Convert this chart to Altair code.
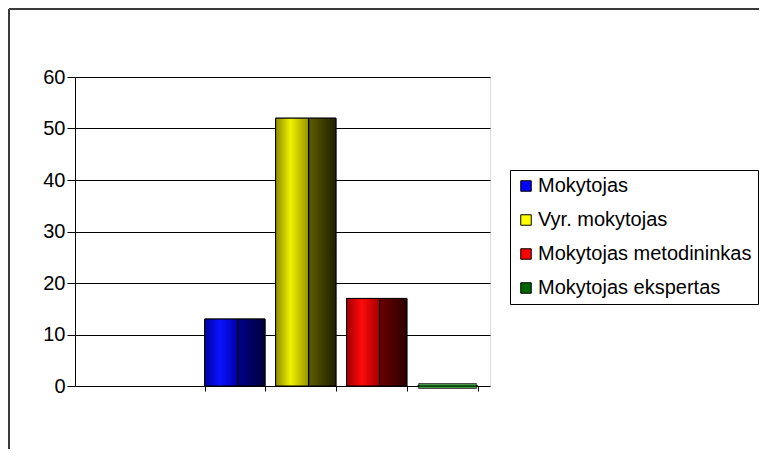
import altair as alt
import pandas as pd

categories = ["Mokytojas", "Vyr. mokytojas", "Mokytojas metodininkas", "Mokytojas ekspertas"]
values = [13, 52, 17, 0]
legend_colors = ["#0000FF", "#FFFF00", "#FF0000", "#006600"]
y_ticks = [0, 10, 20, 30, 40, 50, 60]

df = pd.DataFrame({"category": categories, "value": values})
frame = pd.DataFrame({"z": [0]})

FONT = "Liberation Sans"


def grad(c_edge, c_mid, c_front_r, c_side_l, c_side_r):
    return alt.Gradient(
        gradient="linear",
        x1=0, x2=1, y1=0, y2=0,
        stops=[
            alt.GradientStop(color=c_edge, offset=0),
            alt.GradientStop(color=c_mid, offset=0.25),
            alt.GradientStop(color=c_front_r, offset=0.53),
            alt.GradientStop(color="#000000", offset=0.54),
            alt.GradientStop(color="#000000", offset=0.555),
            alt.GradientStop(color=c_side_l, offset=0.565),
            alt.GradientStop(color=c_side_r, offset=1),
        ],
    )


gradients = {
    "Mokytojas": grad("#0000a0", "#0a14ff", "#0000b0", "#00008a", "#000038"),
    "Vyr. mokytojas": grad("#8c8c00", "#f2f200", "#9a9a00", "#5c5c00", "#1e1e00"),
    "Mokytojas metodininkas": grad("#a00000", "#ff0a0a", "#a80000", "#6a0000", "#2a0000"),
}

x_enc = alt.X(
    "category:N",
    sort=categories,
    scale=alt.Scale(paddingInner=0.15, paddingOuter=1, align=0.914),
    axis=alt.Axis(labels=False, title=None, domain=False, tickColor="black",
                  tickSize=5, tickBand="extent", grid=False),
)
y_enc = alt.Y(
    "value:Q",
    scale=alt.Scale(domain=[0, 60], nice=False),
    axis=alt.Axis(values=y_ticks, title=None, labelFont=FONT, labelFontSize=20,
                  labelColor="black", tickColor="black", tickSize=8, labelPadding=2,
                  domainColor="black", gridColor="black", gridWidth=1),
)

base = alt.Chart(df).mark_bar(stroke="black", strokeWidth=1).encode(
    x=x_enc,
    y=y_enc,
    color=alt.Color(
        "category:N",
        sort=categories,
        scale=alt.Scale(domain=categories, range=legend_colors),
        legend=alt.Legend(
            title=None, orient="none", legendX=435, legendY=93,
            strokeColor="black", fillColor="white", padding=6,
            symbolType="square", symbolSize=110, symbolStrokeColor="black",
            symbolStrokeWidth=1, symbolOpacity=1,
            labelFont=FONT, labelFontSize=20, labelColor="black",
            labelLimit=400, labelOffset=2, rowPadding=14,
        ),
    ),
)

layers = [base]
for cat, g in gradients.items():
    layers.append(
        alt.Chart(df).transform_filter(alt.datum.category == cat)
        .mark_bar(color=g, stroke="black", strokeWidth=1)
        .encode(x=x_enc, y=y_enc)
    )

zero_plate = (
    alt.Chart(df).transform_filter(alt.datum.value == 0)
    .mark_tick(color="#006600", stroke="black", strokeWidth=1, thickness=5, size=58)
    .encode(x=x_enc, y=y_enc)
)
layers.append(zero_plate)

top_border = alt.Chart(frame).mark_rule(color="#3a3a3a", strokeWidth=2).encode(
    x=alt.value(-66), x2=alt.value(720), y=alt.value(-68)
)
left_border = alt.Chart(frame).mark_rule(color="#3a3a3a", strokeWidth=2).encode(
    x=alt.value(-66), y=alt.value(-68), y2=alt.value(420)
)
layers += [top_border, left_border]

chart = alt.layer(*layers).properties(
    width=415,
    height=309,
    padding={"left": 67, "top": 69, "right": 269, "bottom": 63},
    autosize=alt.AutoSizeParams(type="none"),
).configure_view(stroke="#888888", strokeWidth=1).configure(background="white")

chart.save("out.html", embed_options={"renderer": "svg", "actions": False})
